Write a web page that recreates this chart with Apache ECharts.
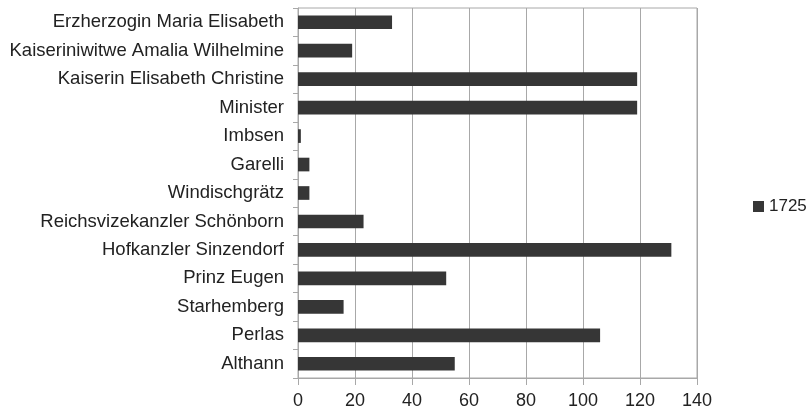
<!DOCTYPE html>
<html>
<head>
<meta charset="utf-8">
<script src="https://cdn.jsdelivr.net/npm/echarts@6/dist/echarts.min.js"></script>
<style>
html,body{margin:0;padding:0;background:#fff;}
#c{width:809px;height:410px;}
</style>
</head>
<body>
<div id="c"></div>
<script>
var categories = [
  "Erzherzogin Maria Elisabeth",
  "Kaiseriniwitwe Amalia Wilhelmine",
  "Kaiserin Elisabeth Christine",
  "Minister",
  "Imbsen",
  "Garelli",
  "Windischgrätz",
  "Reichsvizekanzler Schönborn",
  "Hofkanzler Sinzendorf",
  "Prinz Eugen",
  "Starhemberg",
  "Perlas",
  "Althann"
];
var values1725 = [33, 19, 119, 119, 1, 4, 4, 23, 131, 52, 16, 106, 55];
var seriesName = "1725";
var xTicks = { min: 0, max: 140, interval: 20 };

var chart = echarts.init(document.getElementById('c'), null, {renderer: 'canvas'});
chart.setOption({
  animation: false,
  backgroundColor: '#fff',
  textStyle: { fontFamily: 'Liberation Sans, Arial, sans-serif' },
  grid: {
    left: 298, right: 112, top: 8, bottom: 31,
    show: true, borderColor: '#a8a8a8', borderWidth: 1, backgroundColor: 'transparent'
  },
  legend: {
    left: 748, top: 193,
    orient: 'vertical',
    icon: 'rect',
    itemWidth: 11, itemHeight: 11, itemGap: 5,
    textStyle: { fontSize: 17, color: '#222' },
    data: [seriesName]
  },
  xAxis: {
    type: 'value',
    min: xTicks.min, max: xTicks.max, interval: xTicks.interval,
    axisLine: { show: true, lineStyle: { color: '#a8a8a8' } },
    axisTick: { show: true, length: 7, lineStyle: { color: '#a8a8a8' } },
    axisLabel: { fontSize: 18, color: '#222', margin: 14 },
    splitLine: { show: true, lineStyle: { color: '#a8a8a8' } }
  },
  yAxis: {
    type: 'category',
    inverse: true,
    data: categories,
    axisLine: { show: true, lineStyle: { color: '#a8a8a8' } },
    axisTick: { show: true, length: 5, alignWithLabel: false, lineStyle: { color: '#a8a8a8' } },
    axisLabel: { fontSize: 18.5, color: '#222', margin: 14 },
    splitLine: { show: false }
  },
  series: [{
    name: seriesName,
    type: 'bar',
    data: values1725,
    barCategoryGap: '52%',
    itemStyle: { color: '#363636' }
  }]
});
</script>
</body>
</html>
